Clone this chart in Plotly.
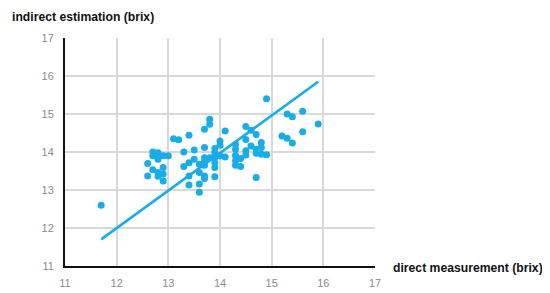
import plotly.graph_objects as go

# direct measurement (brix) vs indirect estimation (brix)
direct = [
    11.7, 14.9, 15.3, 15.4, 15.6, 15.9, 15.6, 15.2, 15.3, 15.4,
    14.5, 14.6, 14.7, 14.5, 14.6, 14.7, 14.7, 14.8, 14.8, 14.8,
    14.9, 14.5, 14.5, 14.7, 14.4, 14.4, 14.3, 14.3, 14.3, 14.3,
    14.3, 14.1, 14.0, 14.0, 14.0, 14.1, 13.9, 13.9, 13.9, 13.9,
    13.9, 13.9, 13.8, 13.8, 13.7, 13.7, 13.7, 13.7, 13.8, 13.7,
    13.6, 13.6, 13.7, 13.7, 13.6, 13.6, 13.5, 13.5, 13.4, 13.4,
    13.4, 13.4, 13.3, 13.3, 13.2, 13.1, 13.0, 12.9, 12.9, 12.9,
    12.9, 12.8, 12.8, 12.8, 12.8, 12.7, 12.7, 12.6, 12.6, 12.7,
]
indirect = [
    12.6, 15.4, 15.0, 14.93, 15.07, 14.74, 14.53, 14.42, 14.36, 14.24,
    14.67, 14.57, 14.46, 14.33, 14.16, 14.07, 13.97, 14.25, 14.12, 13.94,
    13.93, 14.03, 13.92, 13.33, 13.83, 13.62, 14.2, 14.07, 13.91, 13.77,
    13.65, 14.55, 14.29, 14.18, 13.9, 13.87, 14.09, 13.98, 13.85, 13.72,
    13.59, 13.35, 14.86, 14.73, 14.6, 14.12, 13.85, 13.75, 13.85, 13.65,
    13.68, 13.46, 13.37, 13.3, 13.16, 12.94, 14.05, 13.81, 14.44, 13.72,
    13.37, 13.13, 14.0, 13.62, 14.32, 14.35, 13.9, 13.9, 13.59, 13.42,
    13.24, 13.98, 13.81, 13.46, 13.36, 14.0, 13.53, 13.7, 13.37, 13.9,
]
# trend line end points
trend_x = [11.7, 15.9]
trend_y = [11.7, 15.85]

blue = "#16ade9"
font_fam = "Liberation Sans, Arial"

fig = go.Figure()
fig.add_trace(go.Scatter(
    x=direct, y=indirect, mode="markers",
    marker=dict(color=blue, size=7, line=dict(width=0)),
))
fig.add_trace(go.Scatter(
    x=trend_x, y=trend_y, mode="lines",
    line=dict(color=blue, width=2.6),
))

axis_common = dict(
    showgrid=True, gridcolor="#d9d9d9", gridwidth=1.5,
    showline=True, linecolor="#111111", linewidth=2,
    zeroline=False, ticks="outside", tickcolor="rgba(0,0,0,0)",
    automargin=False,
    tickfont=dict(family=font_fam, size=11, color="#8a8a8a"),
)

# page body keeps its default 8px margin, so the figure is 8px smaller
fig.update_layout(
    width=542, height=285,
    margin=dict(l=57, r=175, t=30, b=27),
    paper_bgcolor="white", plot_bgcolor="white",
    showlegend=False,
    xaxis=dict(range=[11, 17], dtick=1, ticklen=6, **axis_common),
    yaxis=dict(range=[11, 17], dtick=1, ticklen=7, **axis_common),
    annotations=[
        dict(text="<b>indirect estimation (brix)</b>", xref="paper", yref="paper",
             x=-55 / 310, y=1 + 21 / 228, xanchor="left", yanchor="middle",
             showarrow=False,
             font=dict(family=font_fam, size=12.2, color="#111111")),
        dict(text="<b>direct measurement (brix)</b>", xref="paper", yref="paper",
             x=1 + 16 / 310, y=-2 / 228, xanchor="left", yanchor="middle",
             showarrow=False,
             font=dict(family=font_fam, size=12.2, color="#111111")),
    ],
)

fig.write_html("out.html", config={"displayModeBar": False})
